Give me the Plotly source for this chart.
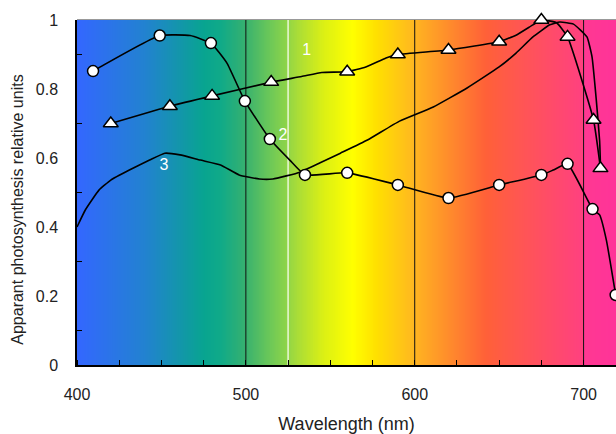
import plotly.graph_objects as go
import numpy as np

# ---- data ----
curve1_marker_x = [420, 455, 480, 515, 560, 590, 620, 650, 675, 690.5, 705.9, 710]
curve1_marker_y = [0.70, 0.75, 0.78, 0.82, 0.85, 0.90, 0.913, 0.937, 1.0, 0.951, 0.71, 0.57]
curve1_line_x = [420, 455, 480, 515, 533, 545, 560, 571, 583, 590, 620, 650, 660, 670, 675, 684, 690.5, 705.9, 710]
curve1_line_y = [0.70, 0.75, 0.78, 0.82, 0.836, 0.848, 0.85, 0.864, 0.89, 0.90, 0.913, 0.937, 0.956, 0.986, 1.0, 0.992, 0.951, 0.71, 0.57]

curve2_marker_x = [409.5, 449, 479.3, 499.4, 514.2, 535, 560, 590, 620, 650, 675, 690.5, 705.3, 719]
curve2_marker_y = [0.852, 0.955, 0.933, 0.765, 0.655, 0.551, 0.557, 0.522, 0.484, 0.522, 0.551, 0.583, 0.452, 0.203]
curve2_line_x = [409.5, 449, 467, 479.3, 488.8, 499.4, 514.2, 526, 535, 560, 590, 620, 650, 675, 682, 690.5, 705.3, 709.5, 713.5, 719]
curve2_line_y = [0.852, 0.955, 0.955, 0.933, 0.875, 0.765, 0.655, 0.594, 0.551, 0.557, 0.522, 0.484, 0.522, 0.551, 0.565, 0.583, 0.452, 0.435, 0.362, 0.203]

curve3_x = [400, 405, 413, 420, 431, 443, 452, 461, 473, 485, 496, 508, 516, 532, 544, 556, 572, 591,
            611, 631, 650, 660, 670, 680, 686, 694, 702, 705, 707.5, 709.5, 710]
curve3_y = [0.40, 0.45, 0.507, 0.536, 0.565, 0.594, 0.614, 0.609, 0.594, 0.58, 0.551, 0.539, 0.539, 0.559,
            0.586, 0.614, 0.652, 0.707, 0.748, 0.803, 0.864, 0.904, 0.951, 0.986, 0.994, 0.988, 0.951,
            0.893, 0.77, 0.65, 0.58]

curve_labels = ["1", "2", "3"]
label_x = [536, 522, 451.5]
label_y = [0.91, 0.664, 0.577]

black_lines = [500, 600, 700]
white_lines = [525]

x_ticks = [400, 500, 600, 700]
y_ticks = [0, 0.2, 0.4, 0.6, 0.8, 1]

y_title = "Apparant photosynthesis relative units"
x_title = "Wavelength (nm)"

# spectrum background
spec_wl = [400, 440, 475, 485, 499, 514, 524, 530, 546, 563, 577, 599, 603, 642, 664, 699.5, 700.5, 720]
spec_col = ["#3367ff", "#2282d0", "#08a490", "#10aa88", "#35b070", "#6cc858", "#8ed448", "#a8dc38",
            "#dcf014", "#ffff00", "#ffe000", "#ffb820", "#ffae22", "#ff6038", "#ff5555", "#ff4080",
            "#ff3892", "#ff3399"]

XMIN, XMAX = 400, 719.2

fig = go.Figure()

bg_x = np.arange(400, 721, 0.5)
scale = [[(w - 400) / 320, c] for w, c in zip(spec_wl, spec_col)]
fig.add_trace(go.Heatmap(x=bg_x, y=[0, 1], z=[bg_x, bg_x], colorscale=scale, zmin=400, zmax=720,
                         showscale=False, hoverinfo="skip", zsmooth="best"))

for v in black_lines:
    fig.add_trace(go.Scatter(x=[v, v], y=[0, 1], mode="lines", line=dict(color="#111111", width=1),
                             hoverinfo="skip", showlegend=False))
for v in white_lines:
    fig.add_trace(go.Scatter(x=[v, v], y=[0, 1], mode="lines", line=dict(color="white", width=1.2),
                             hoverinfo="skip", showlegend=False))

line_style = dict(color="black", width=1.6, shape="spline", smoothing=0.4)
fig.add_trace(go.Scatter(x=curve3_x, y=curve3_y, mode="lines", line=line_style, showlegend=False))
fig.add_trace(go.Scatter(x=curve1_line_x, y=curve1_line_y, mode="lines", line=line_style, showlegend=False))
fig.add_trace(go.Scatter(x=curve2_line_x, y=curve2_line_y, mode="lines", line=line_style, showlegend=False))
fig.add_trace(go.Scatter(x=curve1_marker_x, y=curve1_marker_y, mode="markers", cliponaxis=False,
                         marker=dict(symbol="triangle-up", size=13, color="white",
                                     line=dict(color="black", width=1.5)), showlegend=False))
fig.add_trace(go.Scatter(x=curve2_marker_x, y=curve2_marker_y, mode="markers", cliponaxis=False,
                         marker=dict(symbol="circle", size=11, color="white",
                                     line=dict(color="black", width=1.5)), showlegend=False))
fig.add_trace(go.Scatter(x=label_x, y=label_y, mode="text", text=curve_labels,
                         textfont=dict(color="white", size=16, family="Liberation Sans"),
                         showlegend=False, hoverinfo="skip"))

fig.add_shape(type="line", xref="paper", yref="paper", x0=0, x1=1, y0=1, y1=1,
              line=dict(color="#777777", width=1.5), layer="below")

fig.add_annotation(text=y_title, textangle=-90, xref="paper", yref="paper",
                   x=-0.1095, y=0.45, showarrow=False, xanchor="center", yanchor="middle",
                   font=dict(size=16, color="#222222", family="Liberation Sans"))

fig.update_layout(
    width=616, height=434,
    margin=dict(l=77, r=0, t=20, b=69),
    plot_bgcolor="white", paper_bgcolor="white",
    font=dict(family="Liberation Sans", size=16, color="#222222"),
    showlegend=False,
    xaxis=dict(range=[XMIN, XMAX], tickvals=x_ticks, ticks="", showgrid=False, zeroline=False,
               automargin=False,
               showline=True, linecolor="black", linewidth=1.5,
               minor=dict(dtick=25, tick0=400, ticks="inside", ticklen=5, tickcolor="black", showgrid=False),
               ticklabelstandoff=14,
               title=dict(text=x_title, standoff=17, font=dict(size=18))),
    yaxis=dict(range=[0, 1], tickvals=y_ticks, ticks="", showgrid=False, zeroline=False,
               automargin=False,
               showline=True, linecolor="black", linewidth=1.5,
               minor=dict(dtick=0.2, tick0=0.1, ticks="inside", ticklen=5, tickcolor="black", showgrid=False),
               ticklabelstandoff=14),
)

fig.write_html("out.html", config={"displayModeBar": False},
               post_script="document.body.style.margin='0';document.body.style.overflow='hidden';")
